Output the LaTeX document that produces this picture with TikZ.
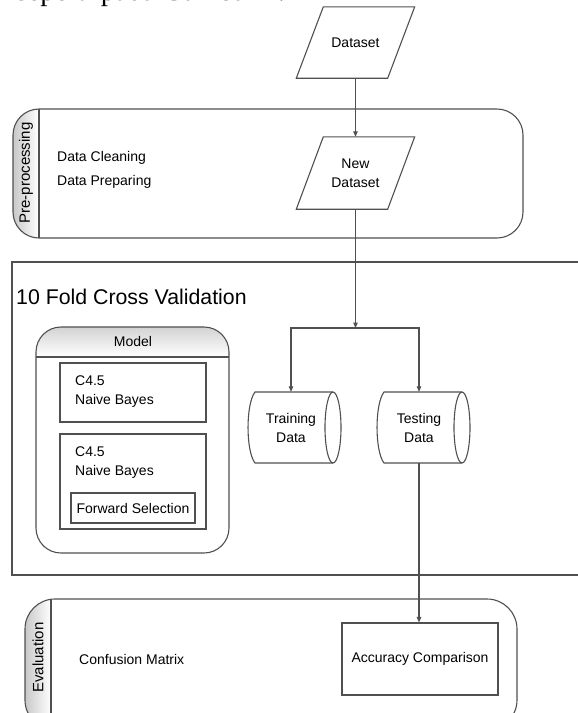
\documentclass[tikz,border=0pt]{standalone}
\usepackage{fontspec}
\setmainfont{Liberation Sans}
\newfontfamily\serifpara{Liberation Serif}
\usetikzlibrary{arrows.meta,calc}

\definecolor{lc}{RGB}{80,80,80}
\definecolor{stripgray}{RGB}{200,200,200}

\tikzset{
  ln/.style={draw=lc, line width=1.1pt},
  arr/.style={ln, -{Triangle[length=5.5pt,width=4.5pt]}},
  txt/.style={font=\fontsize{14}{19}\selectfont, inner sep=0pt, align=center},
  txtl/.style={font=\fontsize{14}{19}\selectfont, inner sep=0pt, align=left},
  lanelbl/.style={font=\fontsize{15}{17}\selectfont, inner sep=0pt, rotate=90},
  box/.style={ln, fill=white, inner sep=0pt},
  hole/.style={inner sep=0pt, align=center, font=\fontsize{14}{19}\selectfont},
}

\begin{document}
\begin{tikzpicture}[x=1pt, y=-1pt]
\useasboundingbox (0,0) rectangle (578,713);
\clip (0,0) rectangle (578,713);
\fill[white] (0,0) rectangle (578,713);

% running text line above the figure
\node[font=\serifpara\fontsize{29}{30}\selectfont, anchor=base west, inner sep=0pt] (caption) at (16,0.5) {seperti pada Gambar 1.};

% ---------- Pre-processing lane ----------
\begin{scope}
  \clip[rounded corners=26pt] (13,109) rectangle (523,238);
  \fill[white] (13,109) rectangle (523,238);
  \shade[left color=stripgray, right color=white] (13,109) rectangle (39,238);
\end{scope}
\draw[ln, rounded corners=26pt] (13,109) rectangle (523,238);
\draw[ln] (39,109) -- (39,238);
\node[lanelbl] (pplbl) at (26,173) {Pre-processing};
\node[txtl, anchor=west, font=\fontsize{14}{24}\selectfont] (ppsteps) at (57,170) {Data Cleaning\\Data Preparing};

% ---------- 10 fold cross validation frame ----------
\draw[ln] (12,262) rectangle (600,575);
\node[anchor=west, inner sep=0pt, font=\fontsize{21.3}{24}\selectfont] (cvtitle) at (16,297) {10 Fold Cross Validation};

% Model container
\begin{scope}
  \clip[rounded corners=25pt] (36,327) rectangle (229,553);
  \fill[white] (36,327) rectangle (229,553);
  \shade[top color=stripgray!80, bottom color=white] (36,327) rectangle (229,357);
\end{scope}
\draw[ln, rounded corners=25pt] (36,327) rectangle (229,553);
\draw[ln] (36,357) -- (229,357);
\node[txt] (modellbl) at (133,341) {Model};

\node[box, minimum width=146pt, minimum height=59pt] (m1) at (133,392.5) {};
\node[txtl, anchor=west] (m1txt) at (75,391.5) {C4.5\\Naive Bayes};
\node[box, minimum width=146pt, minimum height=95pt] (m2) at (133,481.5) {};
\node[txtl, anchor=west] (m2txt) at (75,462.5) {C4.5\\Naive Bayes};
\node[box, minimum width=124pt, minimum height=30pt, font=\fontsize{14}{19}\selectfont] (fs) at (133,508) {Forward Selection};

% ---------- data stores (y axis points down, so arcs run from -90 deg) ----------
\draw[ln, fill=white] (255,392) -- (333,392)
  arc[start angle=-90, end angle=90, x radius=8, y radius=35.5]
  -- (255,463) .. controls (245.7,451) and (245.7,404) .. (255,392) -- cycle;
\draw[ln] (333,392) arc[start angle=-90, end angle=-270, x radius=8, y radius=35.5];
\node[hole, minimum width=70pt, minimum height=71pt] (train) at (291,427.5) {Training\\Data};

\draw[ln, fill=white] (384,392) -- (462,392)
  arc[start angle=-90, end angle=90, x radius=8, y radius=35.5]
  -- (384,463) .. controls (374.7,451) and (374.7,404) .. (384,392) -- cycle;
\draw[ln] (462,392) arc[start angle=-90, end angle=-270, x radius=8, y radius=35.5];
\node[hole, minimum width=70pt, minimum height=71pt] (test) at (419,427.5) {Testing\\Data};

% ---------- Evaluation lane ----------
\begin{scope}
  \clip[rounded corners=30pt] (25,599) rectangle (517,730);
  \fill[white] (25,599) rectangle (517,730);
  \shade[left color=stripgray, right color=white] (25,599) rectangle (51,730);
\end{scope}
\draw[ln, rounded corners=30pt] (25,599) rectangle (517,730);
\draw[ln] (51,599) -- (51,730);
\node[lanelbl] (evlbl) at (38,657.5) {Evaluation};
\node[txtl, anchor=west] (confm) at (79,659) {Confusion Matrix};
\node[box, minimum width=156pt, minimum height=72pt, font=\fontsize{14}{19}\selectfont] (acc) at (420,659) {Accuracy Comparison};

% ---------- input data ----------
\node[hole, minimum width=118pt, minimum height=71pt] (ds) at (355.5,42.5) {};
\draw[ln, fill=white] ([xshift=27pt]ds.north west) -- (ds.north east)
  -- ([xshift=-27pt]ds.south east) -- (ds.south west) -- cycle;
\node[hole] (dstxt) at (ds.center) {Dataset};

\node[hole, minimum width=118pt, minimum height=72pt] (nds) at (355.5,173) {};
\draw[ln, fill=white] ([xshift=27pt]nds.north west) -- (nds.north east)
  -- ([xshift=-27pt]nds.south east) -- (nds.south west) -- cycle;
\node[hole] (ndstxt) at (nds.center) {New\\Dataset};

% ---------- connectors ----------
\coordinate (split) at (355.5,328);
\draw[arr] (ds.south) -- (nds.north);
\draw[arr] (nds.south) -- (split);
\draw[arr] (split) -| (train.north);
\draw[arr] (split) -| (test.north);
\draw[arr] (test.south) -- (test.south |- acc.north);
\end{tikzpicture}
\end{document}
